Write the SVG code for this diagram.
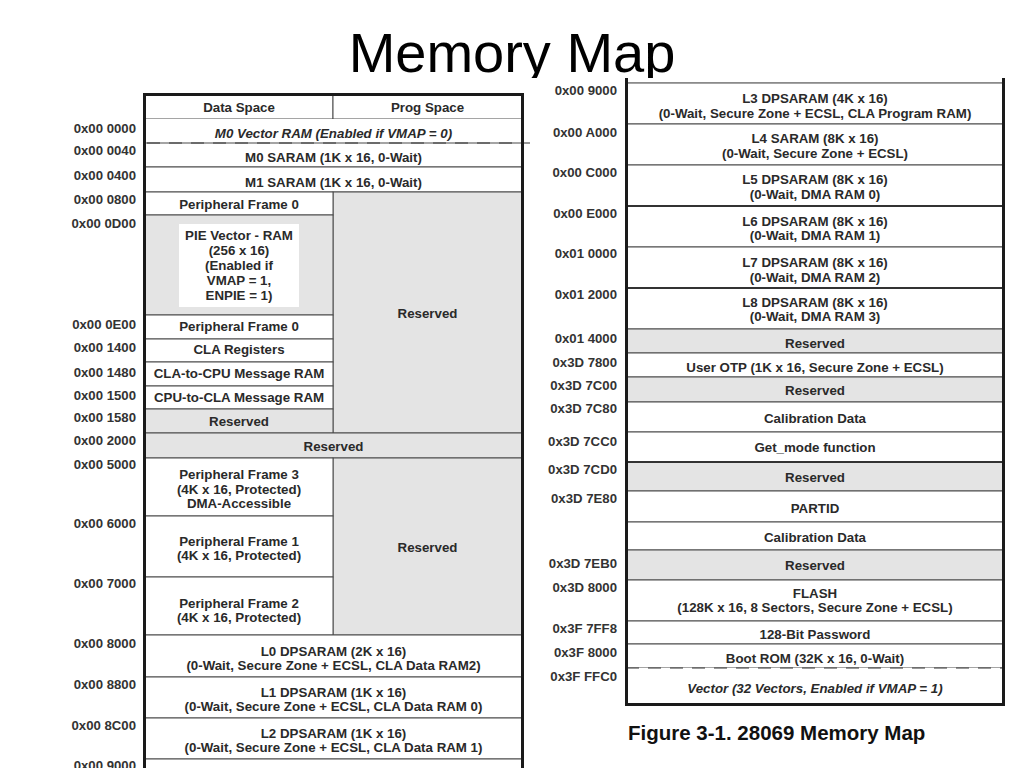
<svg xmlns="http://www.w3.org/2000/svg" width="1024" height="768" viewBox="0 0 1024 768">
<style>
.t{font-family:"Liberation Sans",Arial,sans-serif;font-weight:bold;font-size:13.3px;fill:#2a2a2a;text-anchor:middle}
.i{font-style:italic}
.la{font-family:"Liberation Sans",Arial,sans-serif;font-weight:bold;font-size:13.2px;fill:#333;text-anchor:end}
.w{fill:#fff;stroke:#4a4a4a;stroke-width:1}
.g{fill:#e4e4e4;stroke:#4a4a4a;stroke-width:1}
.b{fill:none;stroke:#1a1a1a;stroke-width:3}
.d{stroke:#333;stroke-width:1;stroke-dasharray:13 9;fill:none}
</style>
<defs>
<clipPath id="tc"><rect x="0" y="0" width="1024" height="78"/></clipPath>
</defs>
<rect width="1024" height="768" fill="#fff"/>
<text x="512" y="72" clip-path="url(#tc)" style="font-family:'Liberation Sans',Arial,sans-serif;font-size:56px;fill:#000;text-anchor:middle">Memory Map</text>

<g id="left-table">
<g id="hdr-data"><rect class="w" x="145" y="95" width="188" height="24"/><text class="t" x="239" y="112">Data Space</text></g>
<g id="hdr-prog"><rect class="w" x="333" y="95" width="189" height="24"/><text class="t" x="427.5" y="112">Prog Space</text></g>
<g id="m0vec"><rect x="145" y="119" width="377" height="24" fill="#fff"/><text class="t i" x="333.5" y="138">M0 Vector RAM (Enabled if VMAP = 0)</text></g>
<g id="m0saram"><rect class="w" x="145" y="143" width="377" height="24"/><text class="t" x="333.5" y="162">M0 SARAM (1K x 16, 0-Wait)</text></g>
<g id="m1saram"><rect class="w" x="145" y="167" width="377" height="25"/><text class="t" x="333.5" y="187">M1 SARAM (1K x 16, 0-Wait)</text></g>
<g id="res-prog1"><rect class="g" x="333" y="192" width="189" height="241"/><text class="t" x="427.5" y="318">Reserved</text></g>
<g id="pf0a"><rect class="w" x="145" y="192" width="188" height="23"/><text class="t" x="239" y="209">Peripheral Frame 0</text></g>
<g id="pievec"><rect class="g" x="145" y="215" width="188" height="100"/><rect x="179" y="224" width="120" height="83" fill="#fff"/>
<text class="t" x="239" y="240">PIE Vector - RAM</text><text class="t" x="239" y="255">(256 x 16)</text><text class="t" x="239" y="270">(Enabled if</text><text class="t" x="239" y="285">VMAP = 1,</text><text class="t" x="239" y="300">ENPIE = 1)</text></g>
<g id="pf0b"><rect class="w" x="145" y="315" width="188" height="24"/><text class="t" x="239" y="331">Peripheral Frame 0</text></g>
<g id="clareg"><rect class="w" x="145" y="339" width="188" height="23"/><text class="t" x="239" y="354">CLA Registers</text></g>
<g id="cla2cpu"><rect class="w" x="145" y="362" width="188" height="24"/><text class="t" x="239" y="378">CLA-to-CPU Message RAM</text></g>
<g id="cpu2cla"><rect class="w" x="145" y="386" width="188" height="23"/><text class="t" x="239" y="402">CPU-to-CLA Message RAM</text></g>
<g id="res1580"><rect class="g" x="145" y="409" width="188" height="24"/><text class="t" x="239" y="426">Reserved</text></g>
<g id="res2000"><rect class="g" x="145" y="433" width="377" height="25"/><text class="t" x="333.5" y="451">Reserved</text></g>
<g id="res-prog2"><rect class="g" x="333" y="458" width="189" height="177"/><text class="t" x="427.5" y="552">Reserved</text></g>
<g id="pf3"><rect class="w" x="145" y="458" width="188" height="58"/><text class="t" x="239" y="479">Peripheral Frame 3</text><text class="t" x="239" y="494">(4K x 16, Protected)</text><text class="t" x="239" y="508">DMA-Accessible</text></g>
<g id="pf1"><rect class="w" x="145" y="516" width="188" height="61"/><text class="t" x="239" y="546">Peripheral Frame 1</text><text class="t" x="239" y="560">(4K x 16, Protected)</text></g>
<g id="pf2"><rect class="w" x="145" y="577" width="188" height="58"/><text class="t" x="239" y="608">Peripheral Frame 2</text><text class="t" x="239" y="622">(4K x 16, Protected)</text></g>
<g id="l0"><rect class="w" x="145" y="635" width="377" height="42"/><text class="t" x="333.5" y="656">L0 DPSARAM (2K x 16)</text><text class="t" x="333.5" y="670">(0-Wait, Secure Zone + ECSL, CLA Data RAM2)</text></g>
<g id="l1"><rect class="w" x="145" y="677" width="377" height="41"/><text class="t" x="333.5" y="697">L1 DPSARAM (1K x 16)</text><text class="t" x="333.5" y="711">(0-Wait, Secure Zone + ECSL, CLA Data RAM 0)</text></g>
<g id="l2"><rect class="w" x="145" y="718" width="377" height="41"/><text class="t" x="333.5" y="738">L2 DPSARAM (1K x 16)</text><text class="t" x="333.5" y="752">(0-Wait, Secure Zone + ECSL, CLA Data RAM 1)</text></g>
<g id="next"><rect class="w" x="145" y="759" width="377" height="20"/></g>
<line class="d" x1="147" y1="143" x2="530" y2="143"/>
<path class="b" d="M144.5,770 V94.5 H522.5 V770"/>
</g>

<g id="left-labels">
<text class="la" x="136" y="133">0x00 0000</text>
<text class="la" x="136" y="155">0x00 0040</text>
<text class="la" x="136" y="180">0x00 0400</text>
<text class="la" x="136" y="204">0x00 0800</text>
<text class="la" x="136" y="228">0x00 0D00</text>
<text class="la" x="136" y="329">0x00 0E00</text>
<text class="la" x="136" y="352">0x00 1400</text>
<text class="la" x="136" y="377">0x00 1480</text>
<text class="la" x="136" y="400">0x00 1500</text>
<text class="la" x="136" y="422">0x00 1580</text>
<text class="la" x="136" y="445">0x00 2000</text>
<text class="la" x="136" y="469">0x00 5000</text>
<text class="la" x="136" y="528">0x00 6000</text>
<text class="la" x="136" y="588">0x00 7000</text>
<text class="la" x="136" y="648">0x00 8000</text>
<text class="la" x="136" y="689">0x00 8800</text>
<text class="la" x="136" y="730">0x00 8C00</text>
<text class="la" x="136" y="770">0x00 9000</text>
</g>

<g id="right-table">
<line x1="626" y1="83" x2="1004" y2="83" stroke="#999" stroke-width="1"/>
<g id="l3"><rect class="w" x="626" y="83" width="378" height="41"/><text class="t" x="815" y="103">L3 DPSARAM (4K x 16)</text><text class="t" x="815" y="118">(0-Wait, Secure Zone + ECSL, CLA Program RAM)</text></g>
<g id="l4"><rect class="w" x="626" y="124" width="378" height="41"/><text class="t" x="815" y="143">L4 SARAM (8K x 16)</text><text class="t" x="815" y="158">(0-Wait, Secure Zone + ECSL)</text></g>
<g id="l5"><rect class="w" x="626" y="165" width="378" height="41"/><text class="t" x="815" y="184">L5 DPSARAM (8K x 16)</text><text class="t" x="815" y="199">(0-Wait, DMA RAM 0)</text></g>
<g id="l6"><rect class="w" x="626" y="206" width="378" height="41"/><text class="t" x="815" y="226">L6 DPSARAM (8K x 16)</text><text class="t" x="815" y="240">(0-Wait, DMA RAM 1)</text></g>
<g id="l7"><rect class="w" x="626" y="247" width="378" height="41"/><text class="t" x="815" y="267">L7 DPSARAM (8K x 16)</text><text class="t" x="815" y="282">(0-Wait, DMA RAM 2)</text></g>
<g id="l8"><rect class="w" x="626" y="288" width="378" height="41"/><text class="t" x="815" y="307">L8 DPSARAM (8K x 16)</text><text class="t" x="815" y="321">(0-Wait, DMA RAM 3)</text></g>
<g id="res14000"><rect class="g" x="626" y="329" width="378" height="24"/><text class="t" x="815" y="348">Reserved</text></g>
<g id="otp"><rect class="w" x="626" y="353" width="378" height="24"/><text class="t" x="815" y="372">User OTP (1K x 16, Secure Zone + ECSL)</text></g>
<g id="res7c00"><rect class="g" x="626" y="377" width="378" height="25"/><text class="t" x="815" y="395">Reserved</text></g>
<g id="cal1"><rect class="w" x="626" y="402" width="378" height="30"/><text class="t" x="815" y="423">Calibration Data</text></g>
<g id="getmode"><rect class="w" x="626" y="432" width="378" height="30"/><text class="t" x="815" y="452">Get_mode function</text></g>
<g id="res7cd0"><rect class="g" x="626" y="462" width="378" height="29"/><text class="t" x="815" y="482">Reserved</text></g>
<g id="partid"><rect class="w" x="626" y="491" width="378" height="31"/><text class="t" x="815" y="513">PARTID</text></g>
<g id="cal2"><rect class="w" x="626" y="522" width="378" height="28"/><text class="t" x="815" y="542">Calibration Data</text></g>
<g id="res7eb0"><rect class="g" x="626" y="550" width="378" height="30"/><text class="t" x="815" y="570">Reserved</text></g>
<g id="flash"><rect class="w" x="626" y="580" width="378" height="41"/><text class="t" x="815" y="598">FLASH</text><text class="t" x="815" y="612">(128K x 16, 8 Sectors, Secure Zone + ECSL)</text></g>
<g id="pwd"><rect class="w" x="626" y="621" width="378" height="23"/><text class="t" x="815" y="639">128-Bit Password</text></g>
<g id="bootrom"><rect class="w" x="626" y="644" width="378" height="24"/><text class="t" x="815" y="663">Boot ROM (32K x 16, 0-Wait)</text></g>
<g id="vector"><rect x="626" y="668" width="378" height="36" fill="#fff"/><text class="t i" x="815" y="693">Vector (32 Vectors, Enabled if VMAP = 1)</text></g>
<line x1="626" y1="206" x2="1004" y2="206" stroke="#333" stroke-width="2"/>
<line x1="626" y1="288" x2="1004" y2="288" stroke="#333" stroke-width="2"/>
<line x1="626" y1="462" x2="1004" y2="462" stroke="#333" stroke-width="2"/>
<line class="d" x1="626" y1="668" x2="1004" y2="668"/>
<path class="b" d="M626.5,78 V704.5 H1003.5 V78"/>
</g>

<g id="right-labels">
<text class="la" x="617" y="95">0x00 9000</text>
<text class="la" x="617" y="137">0x00 A000</text>
<text class="la" x="617" y="177">0x00 C000</text>
<text class="la" x="617" y="218">0x00 E000</text>
<text class="la" x="617" y="258">0x01 0000</text>
<text class="la" x="617" y="299">0x01 2000</text>
<text class="la" x="617" y="343">0x01 4000</text>
<text class="la" x="617" y="367">0x3D 7800</text>
<text class="la" x="617" y="390">0x3D 7C00</text>
<text class="la" x="617" y="413">0x3D 7C80</text>
<text class="la" x="617" y="446">0x3D 7CC0</text>
<text class="la" x="617" y="474">0x3D 7CD0</text>
<text class="la" x="617" y="503">0x3D 7E80</text>
<text class="la" x="617" y="568">0x3D 7EB0</text>
<text class="la" x="617" y="592">0x3D 8000</text>
<text class="la" x="617" y="633">0x3F 7FF8</text>
<text class="la" x="617" y="657">0x3F 8000</text>
<text class="la" x="617" y="681">0x3F FFC0</text>
</g>

<g id="connectors"></g>

<text x="628" y="740" style="font-family:'Liberation Sans',Arial,sans-serif;font-weight:bold;font-size:20.5px;fill:#111">Figure 3-1. 28069 Memory Map</text>
</svg>
